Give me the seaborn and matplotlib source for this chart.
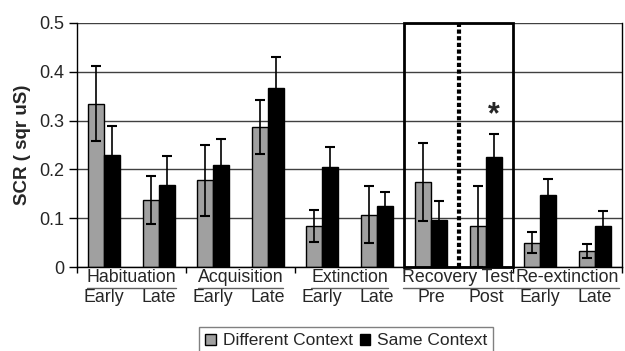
import matplotlib
matplotlib.use("Agg")
import matplotlib.pyplot as plt
from matplotlib.patches import Rectangle, Patch
import seaborn as sns
import pandas as pd

# Data
phases = ["Habituation", "Acquisition", "Extinction", "Recovery Test", "Re-extinction"]
subphases = ["Early", "Late", "Early", "Late", "Early", "Late", "Pre", "Post", "Early", "Late"]
slots = [f"{phases[i // 2]} {s}" for i, s in enumerate(subphases)]

diff_mean = [0.335, 0.137, 0.178, 0.287, 0.084, 0.107, 0.175, 0.084, 0.050, 0.033]
diff_err = [0.076, 0.049, 0.073, 0.055, 0.032, 0.058, 0.080, 0.083, 0.022, 0.014]
same_mean = [0.229, 0.169, 0.209, 0.366, 0.205, 0.125, 0.096, 0.226, 0.147, 0.084]
same_err = [0.060, 0.059, 0.053, 0.065, 0.040, 0.029, 0.039, 0.046, 0.033, 0.031]

contexts = ["Different Context", "Same Context"]
colors = ["#a0a0a0", "#000000"]

df = pd.DataFrame({
    "slot": slots * 2,
    "scr": diff_mean + same_mean,
    "err": diff_err + same_err,
    "context": [contexts[0]] * len(slots) + [contexts[1]] * len(slots),
})

sns.set_style("white")
plt.rcParams["font.family"] = ["Liberation Sans", "DejaVu Sans"]

fig = plt.figure(figsize=(6.25, 3.51), dpi=100)
ax = fig.add_axes([0.1232, 0.2393, 0.872, 0.6952])

sns.barplot(data=df, x="slot", y="scr", hue="context", order=slots,
            hue_order=contexts, palette=colors, edgecolor="black",
            linewidth=1, width=0.59, errorbar=None, legend=False, ax=ax,
            zorder=2)

# error bars on top of each bar
for cont, errs in zip(ax.containers, [diff_err, same_err]):
    for bar, e in zip(cont, errs):
        xc = bar.get_x() + bar.get_width() / 2
        ax.errorbar(xc, bar.get_height(), yerr=e, fmt="none", ecolor="black",
                    elinewidth=1.2, capsize=3.5, capthick=1.5, zorder=3)

ax.set_xlim(-0.5, len(slots) - 0.5)
ax.set_ylim(0, 0.5)
ax.set_yticks([0, 0.1, 0.2, 0.3, 0.4, 0.5])
ax.set_yticklabels(["0", "0.1", "0.2", "0.3", "0.4", "0.5"], fontsize=13)
ax.yaxis.grid(True, color="#404040", linewidth=1)
ax.set_axisbelow(True)
ax.tick_params(axis="y", direction="out", length=6, width=1, color="black", left=True, pad=3)
ax.set_ylabel("SCR ( sqr uS)", fontsize=13.5, fontweight="bold", labelpad=6)
ax.set_xlabel("")

# x axis: ticks only at phase boundaries, custom two-level labels
ax.set_xticks([-0.5, 1.5, 3.5, 5.5, 7.5, 9.5])
ax.set_xticklabels([])
ax.tick_params(axis="x", direction="out", length=4, width=1, color="black", bottom=True)
for side in ["left", "bottom", "right"]:
    ax.spines[side].set_visible(True)
    ax.spines[side].set_color("black")
    ax.spines[side].set_linewidth(1)
ax.spines["top"].set_visible(False)

trans = ax.get_xaxis_transform()
group_texts = []
for i, ph in enumerate(phases):
    t = ax.text(2 * i + 0.5, -0.041, ph, transform=trans, ha="center", va="center",
                fontsize=12.8, clip_on=False)
    group_texts.append(t)
for i, s in enumerate(subphases):
    ax.text(i, -0.127, s, transform=trans, ha="center", va="center",
            fontsize=12.8, clip_on=False)

# underline each phase label
fig.canvas.draw()
renderer = fig.canvas.get_renderer()
inv = ax.transData.inverted()
for t in group_texts:
    bb = t.get_window_extent(renderer)
    x0 = inv.transform((bb.x0, 0))[0]
    x1 = inv.transform((bb.x1, 0))[0]
    ax.plot([x0, x1], [-0.086, -0.086], transform=trans, color="#606060",
            linewidth=1, clip_on=False)

# highlight recovery test
ax.add_patch(Rectangle((5.5, 0), 2.0, 0.5, fill=False, edgecolor="black",
                       linewidth=2, zorder=4, clip_on=False))
ax.plot([6.5, 6.5], [0, 0.5], color="black", linewidth=3, linestyle=(0, (1.0, 0.6)),
        zorder=4)
ax.text(7.14, 0.31, "*", ha="center", va="center", fontsize=22, fontweight="bold")

handles = [Patch(facecolor=c, edgecolor="black", linewidth=1) for c in colors]
fig.legend(handles, contexts, loc="upper center", bbox_to_anchor=(0.554, 0.068),
           ncol=2, fontsize=12.5, frameon=True, fancybox=False, edgecolor="#606060",
           handlelength=0.6, handleheight=0.6, handletextpad=0.4, columnspacing=0.4,
           borderpad=0.35, borderaxespad=0)

fig.savefig("out.png", dpi=100)
